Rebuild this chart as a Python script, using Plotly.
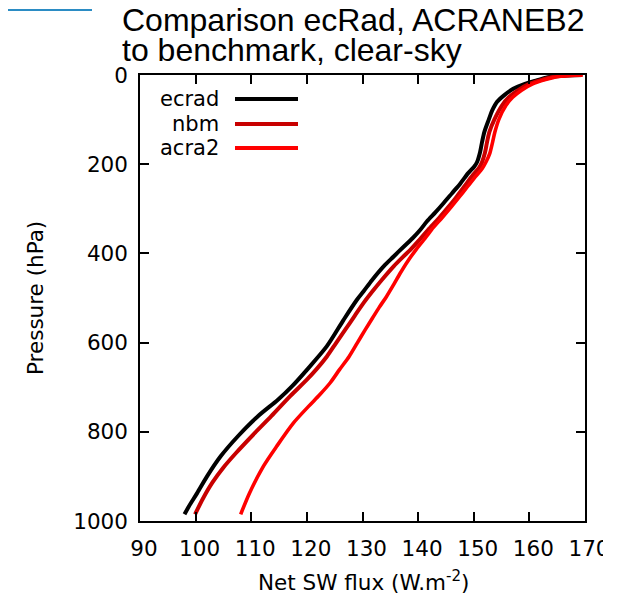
import plotly.graph_objects as go

# ---------------- data ----------------
p_ecrad = [0, 1, 3, 6, 12, 20, 31, 45, 60, 80, 100, 128, 150, 175, 195, 205, 220, 243, 265,
           287, 308, 328, 347, 366, 385, 407, 429, 460, 485, 504, 549, 608, 661, 697, 728,
           765, 810, 855, 900, 937, 967, 985]
f_ecrad = [169.5, 166.5, 164.5, 163.0, 161.3, 159.2, 157.1, 155.5, 154.2, 153.3, 152.7,
           151.9, 151.5, 151.1, 150.6, 150.1, 149.0, 147.6, 146.1, 144.6, 143.1, 141.6,
           140.4, 139.0, 137.4, 135.6, 133.8, 131.7, 130.2, 129.0, 126.6, 123.6, 120.0,
           117.4, 114.8, 111.2, 107.6, 104.5, 102.05, 100.3, 98.8, 98.0]

p_nbm = [0, 1, 3, 6, 12, 20, 34, 50, 68, 100, 128, 150, 175, 195, 207, 225, 250, 275, 295,
         320, 347, 370, 392, 410, 429, 459, 485, 511, 540, 571, 600, 631, 660, 683, 720,
         765, 802, 847, 880, 914, 950, 985]
f_nbm = [169.5, 166.8, 165.0, 163.6, 161.9, 160.0, 158.0, 156.3, 155.1, 153.7, 152.8,
         152.4, 152.0, 151.5, 151.0, 149.8, 148.3, 146.8, 145.5, 143.8, 141.8, 140.2,
         138.6, 137.1, 135.6, 133.5, 131.8, 130.2, 128.6, 126.9, 125.3, 123.6, 121.7,
         120.0, 117.0, 113.6, 110.7, 107.3, 105.0, 103.0, 101.3, 99.9]

p_acra2 = [0, 1, 3, 6, 12, 20, 34, 50, 68, 100, 128, 150, 175, 195, 210, 228, 250, 275,
           295, 320, 347, 370, 392, 418, 444, 470, 497, 521, 545, 571, 600, 631, 660, 690,
           717, 743, 780, 832, 877, 937, 985]
f_acra2 = [169.6, 167.2, 165.5, 164.2, 162.4, 160.6, 158.6, 157.0, 155.8, 154.5, 153.8,
           153.4, 152.9, 152.2, 151.5, 150.3, 148.9, 147.3, 146.0, 144.3, 142.4, 141.0,
           139.6, 138.1, 136.8, 135.6, 134.3, 133.0, 131.8, 130.5, 129.1, 127.6, 125.9,
           124.2, 122.3, 120.3, 117.6, 114.6, 112.2, 109.7, 108.1]

series_names = ["ecrad", "nbm", "acra2"]
series_colors = ["#000000", "#c80000", "#ff0000"]

x_ticks = [90, 100, 110, 120, 130, 140, 150, 160, 170]
y_ticks = [0, 200, 400, 600, 800, 1000]

title_lines = ["Comparison ecRad, ACRANEB2", "to benchmark, clear-sky"]

# ---------------- layout helpers ----------------
O = 8                      # page body margin offset
W, H = 619 - O, 596 - O
L, T = 140 - O, 75 - O
PW, PH = 445, 446
R, B = W - L - PW, H - T - PH


def px(xp):
    """page x pixel -> paper coordinate"""
    return (xp - O - L) / PW


def py(yp):
    """page y pixel -> paper coordinate"""
    return (H - B - (yp - O)) / PH


fig = go.Figure()
for name, color, p, f, w in zip(series_names, series_colors,
                                [p_ecrad, p_nbm, p_acra2],
                                [f_ecrad, f_nbm, f_acra2],
                                [4, 4, 3.6]):
    fig.add_trace(go.Scatter(x=f, y=p, mode="lines", name=name,
                             line=dict(color=color, width=w, shape="spline", smoothing=0.8)))

axis_common = dict(showgrid=False, zeroline=False, showline=True, linecolor="black",
                   linewidth=1.5, mirror="allticks", ticks="inside", ticklen=9,
                   tickwidth=1.5, tickcolor="black",
                   tickfont=dict(family="DejaVu Sans", size=21.5, color="black"))

fig.update_xaxes(range=[90, 170], tickvals=x_ticks, ticktext=[str(v) for v in x_ticks],
                 ticklabelstandoff=7, ticklabelshift=4, **axis_common)
fig.update_yaxes(range=[1000, 0], tickvals=y_ticks, ticktext=[str(v) for v in y_ticks],
                 ticklabelstandoff=6, **axis_common)

annotations = []
# title (two lines positioned separately, like the reference's tight line spacing)
annotations.append(dict(text=title_lines[0], x=px(120), y=py(20), xref="paper", yref="paper",
                        xanchor="left", yanchor="middle", showarrow=False,
                        font=dict(family="Liberation Sans", size=32, color="black")))
annotations.append(dict(text=title_lines[1], x=px(120), y=py(50), xref="paper", yref="paper",
                        xanchor="left", yanchor="middle", showarrow=False,
                        font=dict(family="Liberation Sans", size=32, color="black")))
# axis titles
annotations.append(dict(text="Net SW flux (W.m<sup>-2</sup>)", x=px(363), y=py(581),
                        xref="paper", yref="paper", xanchor="center", yanchor="middle",
                        showarrow=False, font=dict(family="DejaVu Sans", size=21.5, color="black")))
annotations.append(dict(text="Pressure (hPa)", x=px(35), y=py(298), xref="paper", yref="paper",
                        xanchor="center", yanchor="middle", textangle=-90, showarrow=False,
                        font=dict(family="DejaVu Sans", size=21.5, color="black")))

shapes = []
# legend (gnuplot style: text right-aligned, sample line to the right)
leg_y = [99, 124, 148]
for name, color, yy in zip(series_names, series_colors, leg_y):
    annotations.append(dict(text=name, x=px(221), y=py(yy), xref="paper", yref="paper",
                            xanchor="right", yanchor="middle", showarrow=False,
                            font=dict(family="DejaVu Sans", size=21, color="black")))
    shapes.append(dict(type="line", x0=px(235), x1=px(298), y0=py(yy), y1=py(yy),
                       xref="paper", yref="paper", line=dict(color=color, width=4)))

# decorative blue line at top-left
shapes.append(dict(type="line", x0=px(O), x1=px(92), y0=py(10), y1=py(10),
                   xref="paper", yref="paper", line=dict(color="#2b8cc4", width=2)))
# clip of the last tick label at the right edge
shapes.append(dict(type="rect", x0=px(603), x1=px(619), y0=py(530), y1=py(570),
                   xref="paper", yref="paper", fillcolor="white", line=dict(width=0),
                   layer="above"))

fig.update_layout(width=W, height=H, margin=dict(l=L, r=R, t=T, b=B, autoexpand=False),
                  plot_bgcolor="white", paper_bgcolor="white", showlegend=False,
                  annotations=annotations, shapes=shapes,
                  font=dict(family="DejaVu Sans", size=21.5, color="black"))

fig.write_html("out.html")
